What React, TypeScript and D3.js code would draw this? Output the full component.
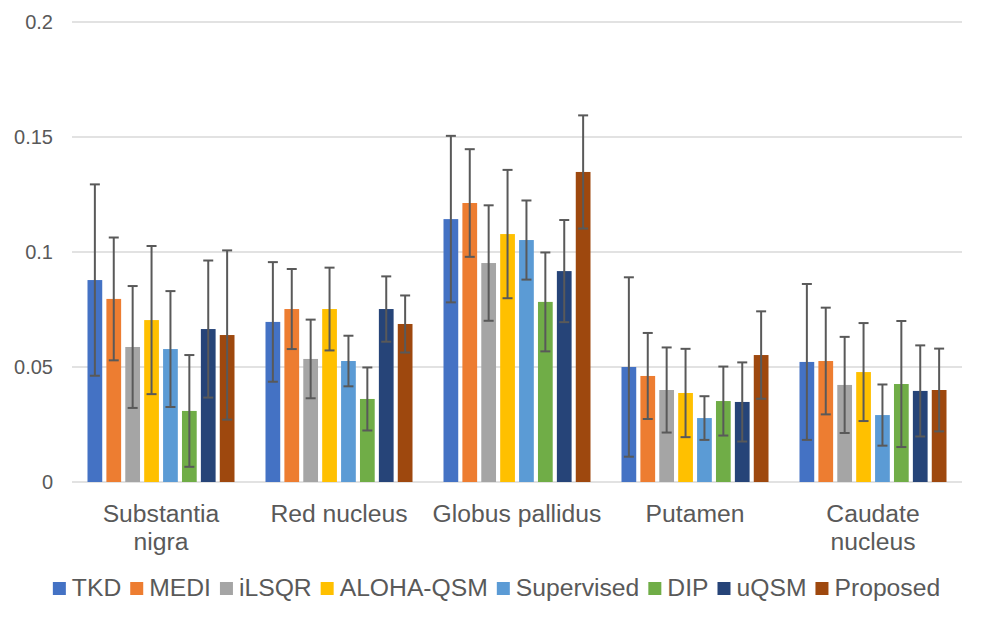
import React, { useEffect, useRef } from "react";
import * as d3 from "d3";

const categories = [
  "Substantia nigra",
  "Red nucleus",
  "Globus pallidus",
  "Putamen",
  "Caudate nucleus",
];
const seriesNames = [
  "TKD",
  "MEDI",
  "iLSQR",
  "ALOHA-QSM",
  "Supervised",
  "DIP",
  "uQSM",
  "Proposed",
];
const seriesColors = [
  "#4472C4",
  "#ED7D31",
  "#A5A5A5",
  "#FFC000",
  "#5B9BD5",
  "#70AD47",
  "#264478",
  "#9E480E",
];
// mean per series, one value per category
const means = [
  [0.0878, 0.0696, 0.1143, 0.05, 0.0522],
  [0.0796, 0.0752, 0.1213, 0.0461, 0.0526],
  [0.0587, 0.0535, 0.0952, 0.04, 0.0422],
  [0.0704, 0.0752, 0.1078, 0.0387, 0.0478],
  [0.0578, 0.0526, 0.1052, 0.0278, 0.0291],
  [0.0309, 0.0361, 0.0783, 0.0352, 0.0426],
  [0.0665, 0.0752, 0.0917, 0.0348, 0.0396],
  [0.0639, 0.0687, 0.1348, 0.0552, 0.04],
];
// standard deviation (error bar half length)
const errors = [
  [0.0416, 0.026, 0.0362, 0.039, 0.0339],
  [0.0267, 0.0174, 0.0234, 0.0187, 0.0232],
  [0.0265, 0.0171, 0.0251, 0.0185, 0.0209],
  [0.0322, 0.018, 0.0279, 0.0192, 0.0213],
  [0.0252, 0.011, 0.0172, 0.0095, 0.0133],
  [0.0243, 0.0137, 0.0215, 0.015, 0.0274],
  [0.0298, 0.0142, 0.0222, 0.0172, 0.0198],
  [0.0368, 0.0124, 0.0246, 0.019, 0.018],
];
const yTicks = [0, 0.05, 0.1, 0.15, 0.2];

const width = 985;
const height = 620;
const marginLeft = 72;
const marginRight = 23;
const marginTop = 22;
const plotBottom = 482;
const textColor = "#595959";
const font = "'Liberation Sans', Arial, sans-serif";
const labelSize = 24.7;

export default function App() {
  const legendRef = useRef<SVGGElement>(null);
  const labelRef = useRef<SVGGElement>(null);

  useEffect(() => {
    document.body.style.margin = "0";
  }, []);

  const x0 = d3
    .scaleBand<string>()
    .domain(categories)
    .range([marginLeft, width - marginRight])
    .paddingInner(0)
    .paddingOuter(0);

  const x1 = d3
    .scaleBand<string>()
    .domain(seriesNames)
    .range([0, x0.bandwidth()])
    .paddingInner(0.22)
    .paddingOuter(0.82);

  const y = d3
    .scaleLinear()
    .domain([0, 0.2])
    .range([plotBottom, marginTop]);

  // wrap category labels to the band width
  useEffect(() => {
    if (!labelRef.current) return;
    const g = d3.select(labelRef.current);
    g.selectAll("*").remove();
    categories.forEach((c) => {
      const cx = x0(c)! + x0.bandwidth() / 2;
      const words = c.split(" ");
      const lines: string[] = [];
      let cur = "";
      const probe = g
        .append("text")
        .attr("font-size", labelSize)
        .attr("font-family", font);
      words.forEach((w) => {
        const test = cur ? cur + " " + w : w;
        probe.text(test);
        if ((probe.node() as SVGTextElement).getComputedTextLength() > 175 && cur) {
          lines.push(cur);
          cur = w;
        } else cur = test;
      });
      lines.push(cur);
      probe.remove();
      lines.forEach((l, i) => {
        g.append("text")
          .attr("x", cx)
          .attr("y", 522 + i * 28)
          .attr("text-anchor", "middle")
          .attr("font-size", labelSize)
          .attr("font-family", font)
          .attr("fill", textColor)
          .text(l);
      });
    });
  }, []);

  // legend laid out by measured text
  useEffect(() => {
    if (!legendRef.current) return;
    const g = d3.select(legendRef.current);
    g.selectAll("*").remove();
    const items = g
      .selectAll("g")
      .data(seriesNames)
      .join("g");
    items
      .append("rect")
      .attr("width", 13)
      .attr("height", 13)
      .attr("y", -14)
      .attr("fill", (_, i) => seriesColors[i]);
    items
      .append("text")
      .attr("x", 19)
      .attr("font-size", labelSize)
      .attr("font-family", font)
      .attr("fill", textColor)
      .text((d) => d);
    const gap = 9;
    let pos = 0;
    const offsets: number[] = [];
    items.each(function () {
      offsets.push(pos);
      const t = d3.select(this).select("text").node() as SVGTextElement;
      pos += 19 + t.getComputedTextLength() + gap;
    });
    const total = pos - gap;
    const start = 496.5 - total / 2;
    items.attr("transform", (_, i) => `translate(${start + offsets[i]},596)`);
  }, []);

  return (
    <svg width={width} height={height} style={{ display: "block", background: "#fff" }}>
      {yTicks.map((t) => (
        <g key={t}>
          <line
            x1={marginLeft}
            x2={width - marginRight}
            y1={y(t)}
            y2={y(t)}
            stroke="#D9D9D9"
            strokeWidth={1.5}
          />
          <text
            x={53}
            y={y(t)}
            dy="0.35em"
            textAnchor="end"
            fontSize={20}
            fontFamily={font}
            fill={textColor}
          >
            {t}
          </text>
        </g>
      ))}
      {categories.map((c, ci) => (
        <g key={c} transform={`translate(${x0(c)},0)`}>
          {seriesNames.map((s, si) => {
            const v = means[si][ci];
            const e = errors[si][ci];
            const bx = x1(s)!;
            const cx = bx + x1.bandwidth() / 2;
            return (
              <g key={s}>
                <rect
                  x={bx}
                  y={y(v)}
                  width={x1.bandwidth()}
                  height={y(0) - y(v)}
                  fill={seriesColors[si]}
                />
                <g stroke="#595959" strokeWidth={2}>
                  <line x1={cx} x2={cx} y1={y(v + e)} y2={y(v - e)} />
                  <line x1={cx - 5} x2={cx + 5} y1={y(v + e)} y2={y(v + e)} />
                  <line x1={cx - 5} x2={cx + 5} y1={y(v - e)} y2={y(v - e)} />
                </g>
              </g>
            );
          })}
        </g>
      ))}
      <g ref={labelRef} />
      <g ref={legendRef} />
    </svg>
  );
}
